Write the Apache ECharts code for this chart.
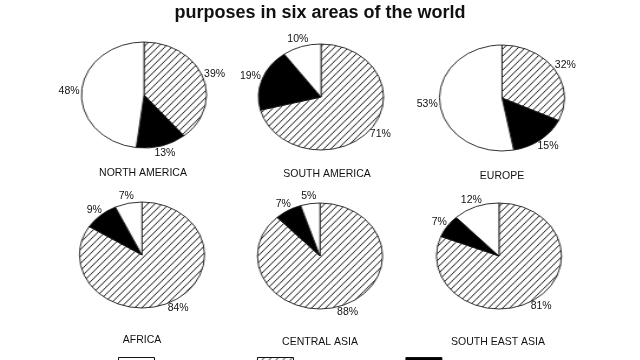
<!DOCTYPE html>
<html>
<head>
<meta charset="utf-8">
<script src="https://cdn.jsdelivr.net/npm/echarts@6/dist/echarts.min.js"></script>
<style>
html,body{margin:0;padding:0;background:#fff;}
#wrap{position:relative;width:640px;height:360px;overflow:hidden;background:#fff;}
#pies{position:absolute;left:0;top:0;height:360px;transform-origin:0 0;}
#text{position:absolute;left:0;top:0;width:640px;height:360px;}
</style>
</head>
<body>
<div id="wrap"><div id="pies"></div><div id="text"></div></div>
<script>
// ---- data ----
const regions = ['NORTH AMERICA', 'SOUTH AMERICA', 'EUROPE', 'AFRICA', 'CENTRAL ASIA', 'SOUTH EAST ASIA'];
const uses = ['Agricultural use', 'Domestic use', 'Industrial use'];
const legendOrder = ['Industrial use', 'Agricultural use', 'Domestic use'];
const agricultural = [39, 71, 32, 84, 88, 81];
const domestic = [13, 19, 15, 9, 7, 7];
const industrial = [48, 10, 53, 7, 5, 12];
const titleText = 'Percentage of water used for different\npurposes in six areas of the world';

// ---- layout ----
const sx = 1.18;               // horizontal stretch -> elliptical pies
const ry = 53;
const rx = ry * sx;
const centers = [[144, 95], [321, 97], [502, 98], [142, 255], [320, 256], [499, 256]];
const namePos = [[143, 173], [327, 174], [502, 176], [142, 340], [320, 342], [498, 342]];
const FONT = '"Liberation Sans", Arial, sans-serif';

function hatch(w, h) {
  const c = document.createElement('canvas');
  c.width = w; c.height = h;
  const g = c.getContext('2d');
  g.fillStyle = '#fff'; g.fillRect(0, 0, w, h);
  g.strokeStyle = '#222'; g.lineWidth = 1;
  for (let k = -1; k <= 1; k++) {
    g.beginPath();
    g.moveTo(-w + k * w, 2 * h);
    g.lineTo(2 * w + k * w, -h);
    g.stroke();
  }
  return { image: c, repeat: 'repeat' };
}

const piesDiv = document.getElementById('pies');
piesDiv.style.width = (640 / sx) + 'px';
piesDiv.style.transform = 'scaleX(' + sx + ')';

const patA = hatch(6, 7);
const chartA = echarts.init(piesDiv, null, { renderer: 'canvas' });
chartA.setOption({
  animation: false,
  series: regions.map((r, i) => ({
    type: 'pie',
    silent: true,
    center: [centers[i][0] / sx, centers[i][1]],
    radius: [0, ry],
    startAngle: 90,
    clockwise: true,
    label: { show: false },
    labelLine: { show: false },
    itemStyle: { borderColor: '#1a1a1a', borderWidth: 0.9 },
    data: [
      { name: uses[0], value: agricultural[i], itemStyle: { color: patA } },
      { name: uses[1], value: domestic[i], itemStyle: { color: '#000' } },
      { name: uses[2], value: industrial[i], itemStyle: { color: '#fff' } }
    ]
  }))
});

const patB = hatch(7, 7);
const chartB = echarts.init(document.getElementById('text'), null, { renderer: 'canvas' });
chartB.setOption({
  animation: false,
  title: {
    text: titleText,
    left: 'center',
    top: -25,
    textStyle: { fontFamily: FONT, fontSize: 18, fontWeight: 'bold', color: '#111', lineHeight: 22 }
  },
  legend: {
    left: 118,
    top: 357,
    padding: 0,
    icon: 'rect',
    itemWidth: 36,
    itemHeight: 20,
    itemGap: 38,
    selectedMode: false,
    textStyle: { fontFamily: FONT, fontSize: 10, color: '#111' },
    data: [
      { name: legendOrder[0], itemStyle: { color: '#fff', borderColor: '#111', borderWidth: 1 } },
      { name: legendOrder[1], itemStyle: { color: patB, borderColor: '#111', borderWidth: 1 } },
      { name: legendOrder[2], itemStyle: { color: '#000', borderColor: '#111', borderWidth: 1 } }
    ]
  },
  graphic: regions.map((r, i) => ({
    type: 'text',
    x: namePos[i][0],
    y: namePos[i][1],
    silent: true,
    style: { text: r, align: 'center', verticalAlign: 'middle', font: '10.5px ' + FONT, fill: '#111' }
  })),
  series: regions.map((r, i) => ({
    type: 'pie',
    silent: true,
    center: centers[i],
    radius: [0, ry],
    startAngle: 90,
    clockwise: true,
    avoidLabelOverlap: false,
    itemStyle: { color: 'transparent', borderWidth: 0 },
    label: {
      show: true,
      position: 'outside',
      formatter: '{c}%',
      fontFamily: FONT,
      fontSize: 10.5,
      color: '#111',
      distanceToLabelLine: 0
    },
    labelLine: { show: false, length: 0, length2: 0 },
    labelLayout: function (p) {
      // anchor of the default outside label = point on the circle along the slice's mid angle
      const c = centers[p.seriesIndex];
      const rc = p.labelRect;
      const lx = rc.x + rc.width / 2;
      const right = p.align ? p.align === 'left' : lx >= c[0];
      const ax = right ? rc.x : rc.x + rc.width;
      const ay = rc.y + rc.height / 2;
      let dx = (ax - c[0]) / ry, dy = (ay - c[1]) / ry;
      const n = Math.hypot(dx, dy) || 1;
      dx /= n; dy /= n;
      const g = 2;
      return {
        x: c[0] + rx * dx + dx * (rc.width / 2 + g),
        y: c[1] + ry * dy + dy * (rc.height / 2 + g),
        align: 'center',
        verticalAlign: 'middle'
      };
    },
    data: [
      { name: uses[0], value: agricultural[i] },
      { name: uses[1], value: domestic[i] },
      { name: uses[2], value: industrial[i] }
    ]
  }))
});
</script>
</body>
</html>
